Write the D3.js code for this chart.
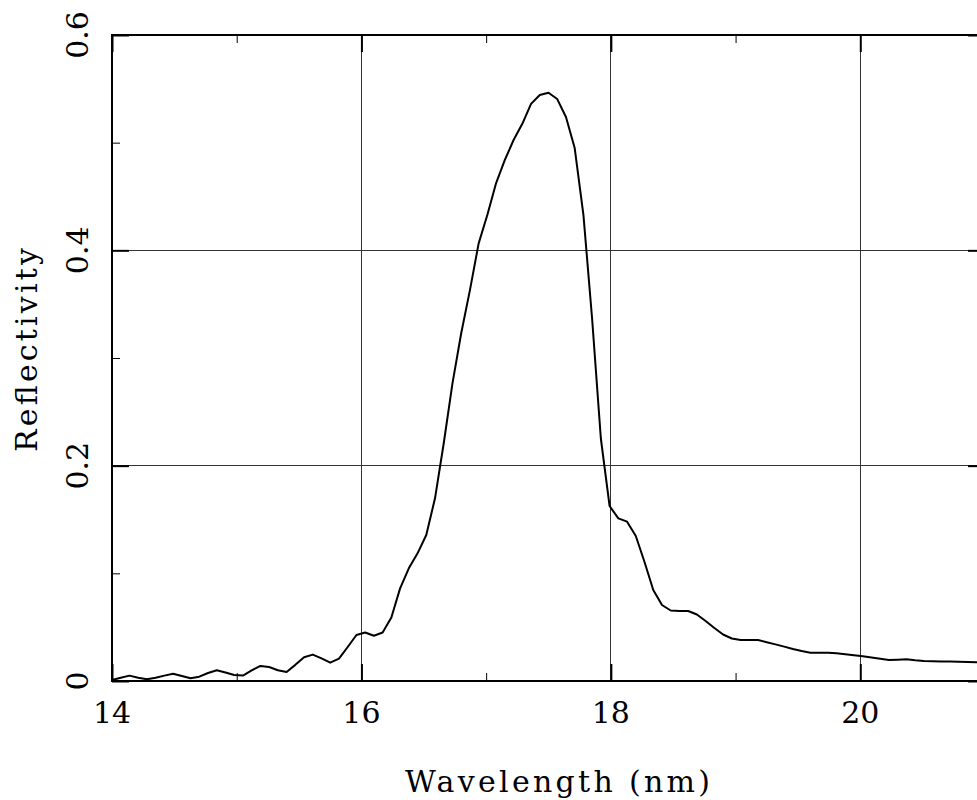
<!DOCTYPE html>
<html>
<head>
<meta charset="utf-8">
<script src="https://cdn.jsdelivr.net/npm/d3@7"></script>
<style>
  html, body { margin: 0; padding: 0; background: #fff; overflow: hidden; }
  svg text { font-family: "DejaVu Serif", "Liberation Serif", serif; fill: #000; }
</style>
</head>
<body>
<div id="chart"></div>
<script>
// wavelength samples (nm)
const wavelength = [
  14.00, 14.07, 14.14, 14.21, 14.28, 14.35, 14.42, 14.49, 14.56, 14.63,
  14.70, 14.77, 14.84, 14.91, 14.98, 15.05, 15.12, 15.19, 15.26, 15.33,
  15.40, 15.47, 15.54, 15.61, 15.68, 15.75, 15.82, 15.89, 15.96, 16.03,
  16.10, 16.17, 16.24, 16.31, 16.38, 16.45, 16.52, 16.59, 16.66, 16.73,
  16.80, 16.87, 16.94, 17.01, 17.08, 17.15, 17.22, 17.29, 17.36, 17.43,
  17.50, 17.57, 17.64, 17.71, 17.78, 17.85, 17.92, 17.99, 18.06, 18.13,
  18.20, 18.27, 18.34, 18.41, 18.48, 18.55, 18.62, 18.69, 18.76, 18.83,
  18.90, 18.97, 19.04, 19.11, 19.18, 19.25, 19.32, 19.39, 19.46, 19.53,
  19.60, 19.67, 19.74, 19.81, 19.88, 19.95, 20.02, 20.09, 20.16, 20.23,
  20.30, 20.37, 20.44, 20.51, 20.58, 20.65, 20.72, 20.79, 20.86, 20.93,
  21.00
];

const reflectivity = [
  0.001, 0.003, 0.005, 0.003, 0.0016, 0.003, 0.005, 0.0068, 0.0046, 0.0025,
  0.004, 0.0074, 0.010, 0.0079, 0.0056, 0.005, 0.0098, 0.014, 0.013, 0.010,
  0.0084, 0.015, 0.022, 0.0245, 0.021, 0.017, 0.0207, 0.0316, 0.0427, 0.045,
  0.042, 0.045, 0.059, 0.086, 0.1047, 0.1186, 0.1356, 0.1697, 0.2208, 0.2765,
  0.323, 0.363, 0.4065, 0.433, 0.4625, 0.484, 0.5025, 0.5175, 0.536, 0.5443,
  0.5464, 0.5405, 0.5238, 0.495, 0.433, 0.336, 0.225, 0.1625, 0.151, 0.148,
  0.1347, 0.1105, 0.0845, 0.0706, 0.0655, 0.065, 0.065, 0.0618, 0.0557, 0.0492,
  0.0432, 0.0395, 0.038, 0.038, 0.038, 0.036, 0.034, 0.0319, 0.0297, 0.0279,
  0.0263, 0.0263, 0.0263, 0.0257, 0.0248, 0.0239, 0.0229, 0.0218, 0.0207, 0.0195,
  0.0198, 0.0202, 0.0193, 0.0186, 0.0184, 0.0182, 0.018, 0.0178, 0.0176, 0.0174,
  0.0172
];

const xMajor = [14, 16, 18, 20];
const xMinor = [15, 17, 19];
const yMajor = [0, 0.2, 0.4, 0.6];
const yMinor = [0.1, 0.3, 0.5];
const yTickLabels = ["0", "0.2", "0.4", "0.6"];
const xTitle = "Wavelength (nm)";
const yTitle = "Reflectivity";

const width = 977;
const height = 800;
const margin = { top: 35, left: 112 };
const plotW = 873;   // runs past the right edge of the window
const plotH = 646;

const svg = d3.select("#chart")
  .append("svg")
  .attr("width", width)
  .attr("height", height);

const x = d3.scaleLinear().domain([14, 21]).range([margin.left, margin.left + plotW]);
const y = d3.scaleLinear().domain([0, 0.6]).range([margin.top + plotH, margin.top]);

// grid lines at the inner major ticks
const grid = svg.append("g").attr("stroke", "#333").attr("stroke-width", 1).attr("shape-rendering", "crispEdges");
grid.selectAll(".gx")
  .data(xMajor.slice(1))
  .enter().append("line")
  .attr("x1", d => x(d)).attr("x2", d => x(d))
  .attr("y1", y(0.6)).attr("y2", y(0));
grid.selectAll(".gy")
  .data(yMajor.slice(1, -1))
  .enter().append("line")
  .attr("y1", d => y(d)).attr("y2", d => y(d))
  .attr("x1", x(14)).attr("x2", x(21));

// ticks on all four sides, pointing inward
function drawTicks(axis, tx, ty, vals, size, sw) {
  const g = svg.append("g")
    .attr("transform", `translate(${tx},${ty})`)
    .call(axis.tickValues(vals).tickSize(size).tickFormat(""));
  g.select(".domain").remove();
  g.selectAll(".tick line").attr("stroke", "#000").attr("stroke-width", sw);
}
drawTicks(d3.axisBottom(x), 0, y(0), xMajor, -17, 2);
drawTicks(d3.axisTop(x), 0, y(0.6), xMajor, -17, 2);
drawTicks(d3.axisLeft(y), x(14), 0, yMajor, -17, 2);
drawTicks(d3.axisRight(y), x(21), 0, yMajor, -17, 2);
drawTicks(d3.axisBottom(x), 0, y(0), xMinor, -8, 1);
drawTicks(d3.axisTop(x), 0, y(0.6), xMinor, -8, 1);
drawTicks(d3.axisLeft(y), x(14), 0, yMinor, -8, 1);
drawTicks(d3.axisRight(y), x(21), 0, yMinor, -8, 1);

// frame
svg.append("rect")
  .attr("x", x(14)).attr("y", y(0.6))
  .attr("width", x(21) - x(14)).attr("height", y(0) - y(0.6))
  .attr("fill", "none")
  .attr("stroke", "#000")
  .attr("stroke-width", 2);

// curve
const line = d3.line()
  .x((d, i) => x(wavelength[i]))
  .y(d => y(d));

svg.append("path")
  .datum(reflectivity)
  .attr("fill", "none")
  .attr("stroke", "#000")
  .attr("stroke-width", 2)
  .attr("stroke-linejoin", "round")
  .attr("d", line);

// tick labels
svg.selectAll(".xlabel")
  .data(xMajor)
  .enter().append("text")
  .attr("x", d => x(d))
  .attr("y", y(0) + 42)
  .attr("text-anchor", "middle")
  .style("font-size", "30px")
  .text(d => d);

svg.selectAll(".ylabel")
  .data(yMajor)
  .enter().append("text")
  .attr("transform", d => `translate(88,${y(d)}) rotate(-90)`)
  .attr("text-anchor", "middle")
  .style("font-size", "30px")
  .text((d, i) => yTickLabels[i]);

// axis titles
svg.append("text")
  .attr("x", 405)
  .attr("y", 792)
  .attr("textLength", 305)
  .attr("lengthAdjust", "spacing")
  .style("font-size", "30px")
  .text(xTitle);

svg.append("text")
  .attr("transform", "translate(37,452) rotate(-90)")
  .attr("textLength", 204)
  .attr("lengthAdjust", "spacing")
  .style("font-size", "30px")
  .text(yTitle);
</script>
</body>
</html>
